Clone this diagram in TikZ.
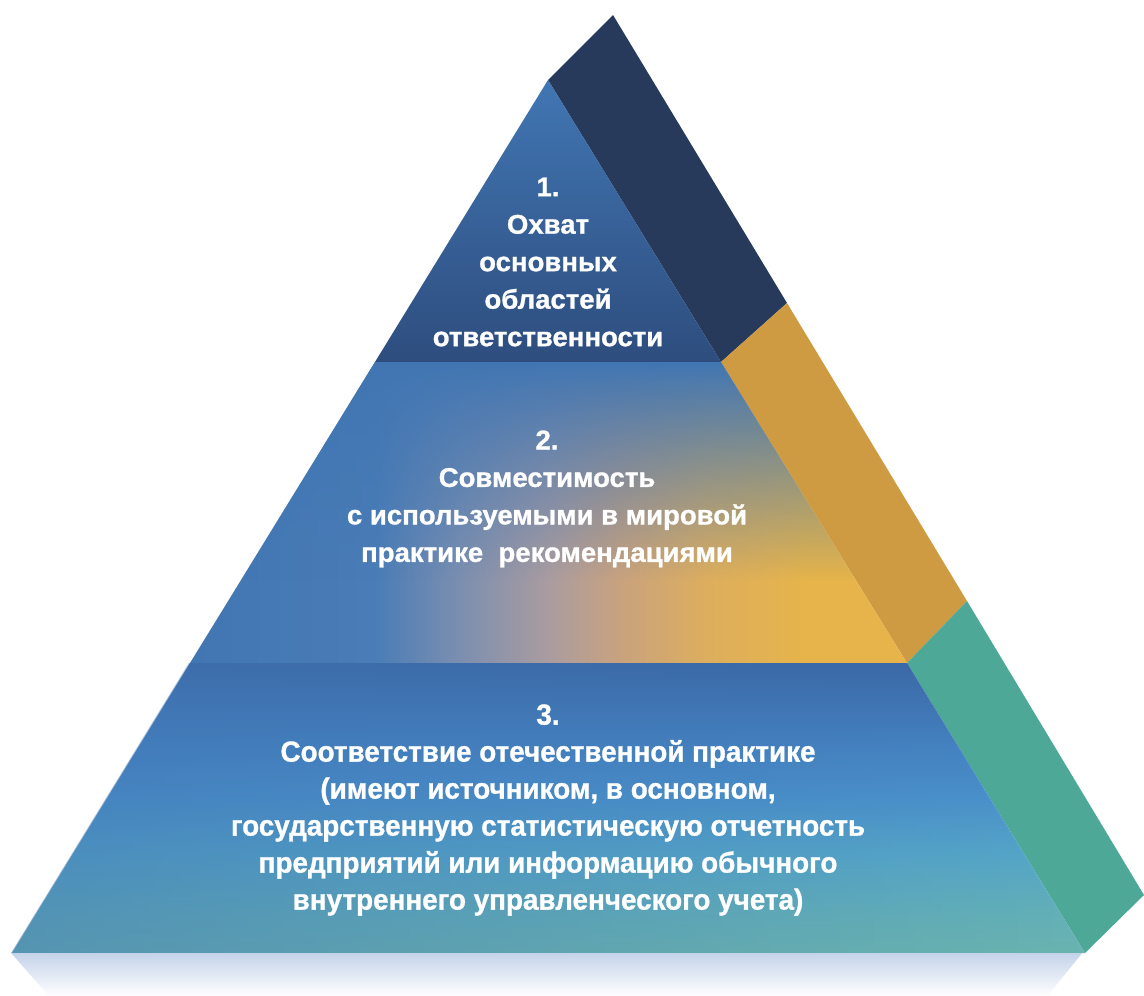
\documentclass[tikz,border=0pt]{standalone}
\usepackage{fontspec}
\setmainfont{Liberation Sans}
\newfontfamily\levelfont{Liberation Sans Bold}[FakeBold=1,FakeStretch=1.02]
\newfontfamily\narrowfont{Liberation Sans Bold}[FakeBold=1,FakeStretch=0.96]
\usetikzlibrary{fadings}

\definecolor{navyside}{HTML}{283A5C}
\definecolor{goldside}{HTML}{CF9B42}
\definecolor{tealside}{HTML}{4EA897}
\definecolor{pyrblue}{HTML}{4176B3}
\definecolor{pyrdark}{HTML}{2E4D7E}
\definecolor{mirror}{HTML}{C5D3EA}
\definecolor{midgrey}{HTML}{7D8FAF}
\definecolor{midpink}{HTML}{AA9CA0}
\definecolor{midtan}{HTML}{C9A27E}
\definecolor{midochre}{HTML}{DDAE5E}
\definecolor{midgold}{HTML}{E6B44A}
\definecolor{lowteal}{HTML}{6AB4AF}
\definecolor{lowcyan}{HTML}{63B0B8}
\definecolor{lowlight}{HTML}{55A6C8}
\definecolor{lowsky}{HTML}{4A91CB}
\definecolor{lowblue}{HTML}{4583C2}
\definecolor{lowtop}{HTML}{3B68A6}

\pgfdeclarehorizontalshading{middleband}{100bp}{color(0bp)=(pyrblue); color(25bp)=(pyrblue);
    color(38bp)=(pyrblue!95!white); color(44bp)=(midgrey); color(50bp)=(midpink);
    color(55bp)=(midtan); color(61bp)=(midochre); color(68bp)=(midgold); color(100bp)=(midgold)}
\pgfdeclareverticalshading{bottomband}{100bp}{color(0bp)=(lowteal); color(25bp)=(lowteal);
    color(32bp)=(lowcyan); color(42bp)=(lowlight); color(52bp)=(lowsky);
    color(60bp)=(lowblue); color(75bp)=(lowtop); color(100bp)=(lowtop)}

\begin{document}
\begin{tikzpicture}[x=1pt,y=-1pt,
    level/.style={align=center,text=white,font=\levelfont\fontsize{27}{37.5}\selectfont},
    narrowlevel/.style={level,font=\narrowfont\fontsize{29}{37}\selectfont}]
    \fill[white] (0,0) rectangle (1144,996);
    \useasboundingbox (0,0) rectangle (1144,996);

    \fill[navyside] (548,80) -- (613,15) -- (787,303) -- (721,362) -- cycle;
    \fill[goldside] (721,362) -- (787,303) -- (967,601) -- (907,663) -- cycle;
    \fill[tealside] (907,663) -- (967,601) -- (1144,895) -- (1085,953) -- cycle;

    \shade[top color=pyrblue,bottom color=pyrdark] (548,80) -- (721,362) -- (375,362) -- cycle;

    \begin{scope}
        \clip (375,362) -- (721,362) -- (907,663) -- (190,663) -- cycle;
        \shade[shading=middleband] (190,362) rectangle (907,663);
        \fill[pyrblue,path fading=south] (190,362) rectangle (907,580);
    \end{scope}

    \shade[shading=bottomband] (190,663) -- (907,663) -- (1085,953) -- (12,953) -- cycle;
    \fill[pyrblue,path fading=east,fill opacity=0.5] (190,663) -- (907,663) -- (1085,953) -- (12,953) -- cycle;

    \fill[mirror,path fading=south] (12,953) -- (1085,953) -- (1050,996) -- (50,996) -- cycle;

    \node[level] (top) at (548,262) {1.\\Охват\\основных\\областей\\ответственности};
    \node[level] (middle) at (547,499) {2.\\Совместимость\\с используемыми в мировой\\практике \ рекомендациями};
    \node[narrowlevel] (bottom) at (548,810) {3.\\Соответствие отечественной практике\\(имеют источником, в основном,\\государственную статистическую отчетность\\предприятий или информацию обычного\\внутреннего управленческого учета)};
\end{tikzpicture}
\end{document}
